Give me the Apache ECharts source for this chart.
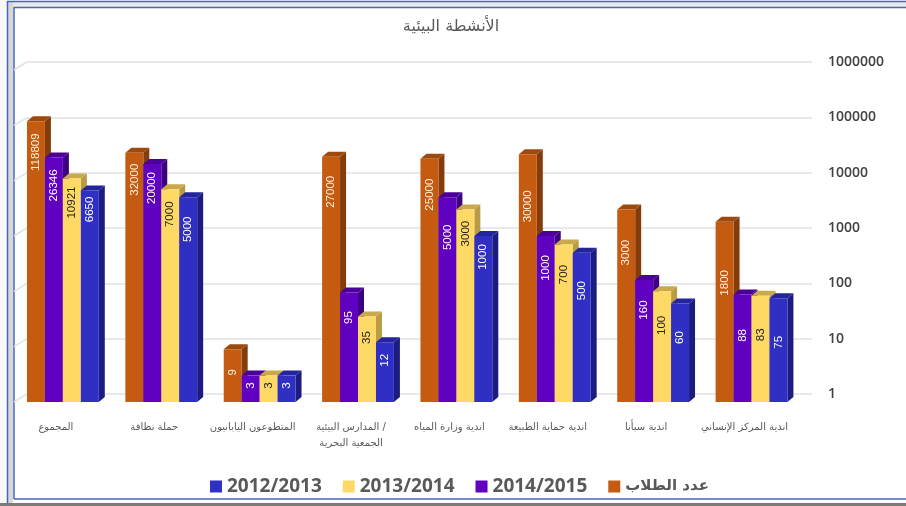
<!DOCTYPE html>
<html>
<head>
<meta charset="utf-8">
<script src="https://cdn.jsdelivr.net/npm/echarts@6/dist/echarts.min.js"></script>
<style>
html, body, #main { width: 906px; height: 506px; margin: 0; background: #fff; }
</style>
</head>
<body>
<div id="main"></div>
<script>
var categories = ['المجموع', 'حملة نظافة', 'المتطوعون اليابانيون', 'المدارس البيئية /\nالجمعية البحرية',
    'اندية وزارة المياه', 'اندية حماية الطبيعة', 'اندية سبأنا', 'اندية المركز الإنساني'];
var students = [118809, 32000, 9, 27000, 25000, 30000, 3000, 1800];
var year1415 = [26346, 20000, 3, 95, 5000, 1000, 160, 88];
var year1314 = [10921, 7000, 3, 35, 3000, 700, 100, 83];
var year1213 = [6650, 5000, 3, 12, 1000, 500, 60, 75];
var wallTicks = [1, 10, 100, 1000, 10000, 100000, 1000000];

// how far below the bar top each value label sits in the original
var labelDrop = [
    [31, 27, 23, 35, 36, 52, 43, 61],
    [28, 24, 10, 25, 40, 32, 30, 41],
    [24, 25, 10, 21, 24, 30, 34, 39],
    [19, 32, 10, 18, 21, 38, 34, 44]
];

var DEPTH_X = 6, DEPTH_Y = 5, GROUP_SHARE = 0.73;
var GRAY_TEXT = '#595959';
var FRAME_BLUE = '#4466bb';

var chart = echarts.init(document.getElementById('main'));

function barSeries(name, values, idx, front, side, top, labelColor) {
    return {
        name: name,
        type: 'custom',
        xAxisIndex: 1,
        yAxisIndex: 1,
        clip: false,
        z: 3 + idx,
        itemStyle: { color: front },
        data: values.map(function (v, i) { return [i, v]; }),
        renderItem: function (params, api) {
            var i = api.value(0);
            var p = api.coord([i, api.value(1)]);
            var base = api.coord([i, 1]);
            var w = api.size([1, 0])[0] * GROUP_SHARE / 4;
            var x = p[0] - 2 * w + idx * w;
            var y = p[1];
            var by = base[1];
            var r = x + w;
            return {
                type: 'group',
                children: [
                    { type: 'polygon', shape: { points: [[r, y], [r + DEPTH_X, y - DEPTH_Y], [r + DEPTH_X, by - DEPTH_Y], [r, by]] }, style: { fill: side } },
                    { type: 'polygon', shape: { points: [[x, y], [x + DEPTH_X, y - DEPTH_Y], [r + DEPTH_X, y - DEPTH_Y], [r, y]] }, style: { fill: top } },
                    { type: 'rect', shape: { x: x, y: y, width: w, height: by - y }, style: { fill: front } },
                    {
                        type: 'text',
                        rotation: Math.PI / 2,
                        x: x + w / 2,
                        y: y + labelDrop[idx][i],
                        style: {
                            text: String(api.value(1)),
                            fill: labelColor,
                            font: '11.5px "Liberation Sans"',
                            align: 'center',
                            verticalAlign: 'middle'
                        }
                    }
                ]
            };
        }
    };
}

chart.setOption({
    animation: false,
    backgroundColor: '#fff',
    title: {
        text: 'الأنشطة البيئية',
        left: 446,
        top: 14,
        textAlign: 'center',
        textStyle: { fontFamily: 'DejaVu Sans', fontSize: 16, fontWeight: 'normal', color: GRAY_TEXT }
    },
    legend: {
        left: 205,
        top: 472,
        icon: 'rect',
        itemWidth: 12,
        itemHeight: 12,
        itemGap: 21,
        data: [
            { name: '2012/2013' },
            { name: '2013/2014' },
            { name: '2014/2015' },
            { name: 'عدد الطلاب', textStyle: { fontFamily: 'DejaVu Sans', fontSize: 15, fontWeight: 'bold', color: GRAY_TEXT } }
        ],
        textStyle: { fontFamily: 'Open Sans', fontSize: 19, fontWeight: 'bold', color: GRAY_TEXT }
    },
    grid: [
        { left: 27, right: 94, top: 62, bottom: 112 },
        { left: 13.7, width: 787, top: 70, bottom: 104 }
    ],
    xAxis: [
        { type: 'value', gridIndex: 0, min: 0, max: 1, show: false },
        {
            type: 'category',
            gridIndex: 1,
            data: categories,
            axisLine: { show: false },
            axisTick: { show: false },
            axisLabel: {
                interval: 0,
                margin: 17,
                lineHeight: 16,
                padding: [0, 14, 0, 0],
                fontFamily: 'DejaVu Sans',
                fontSize: 10,
                color: GRAY_TEXT
            }
        }
    ],
    yAxis: [
        {
            type: 'log',
            gridIndex: 0,
            logBase: 10,
            min: 1,
            max: 1000000,
            position: 'right',
            axisLine: { show: false },
            axisTick: { show: false },
            axisLabel: {
                margin: 16,
                fontFamily: 'Open Sans',
                fontSize: 14,
                fontWeight: 600,
                color: '#404040',
                formatter: function (v) { return String(v); }
            },
            splitLine: { show: true, lineStyle: { color: '#e2e2e2', width: 1.5 } }
        },
        { type: 'log', gridIndex: 1, logBase: 10, min: 1, max: 1000000, show: false }
    ],
    series: [
        // slanted left ends of the wall gridlines
        {
            type: 'custom',
            xAxisIndex: 0,
            yAxisIndex: 0,
            clip: false,
            silent: true,
            z: 1,
            data: wallTicks.map(function (v) { return [0, v]; }),
            renderItem: function (params, api) {
                var p = api.coord([0, api.value(1)]);
                return {
                    type: 'line',
                    shape: { x1: p[0], y1: p[1], x2: p[0] - 13, y2: p[1] + 8 },
                    style: { stroke: '#e2e2e2', lineWidth: 1.5 }
                };
            }
        },
        barSeries('عدد الطلاب', students, 0, '#c55a11', '#843c0c', '#9c4a0e', '#fff2e0'),
        barSeries('2014/2015', year1415, 1, '#6000c0', '#3d0080', '#4a0099', '#fff'),
        barSeries('2013/2014', year1314, 2, '#ffd966', '#b99a45', '#c9a94c', '#222'),
        barSeries('2012/2013', year1213, 3, '#2f2fc4', '#1c1c80', '#24249c', '#fff')
    ],
    graphic: [
        { type: 'rect', silent: true, z: 0, shape: { x: 0, y: 0, width: 7, height: 506 }, style: { fill: '#f8f8f8' } },
        { type: 'rect', silent: true, z: 0, shape: { x: 7, y: 2, width: 899, height: 5 }, style: { fill: '#e8e8e8' } },
        { type: 'rect', silent: true, z: 0, shape: { x: 8, y: 2, width: 5, height: 502 }, style: { fill: '#d8d8d8' } },
        { type: 'rect', silent: true, z: 0, shape: { x: 0, y: 503, width: 906, height: 3 }, style: { fill: '#7a7a7a' } },
        { type: 'line', silent: true, z: 0, shape: { x1: 7, y1: 1.5, x2: 906, y2: 1.5 }, style: { stroke: FRAME_BLUE, lineWidth: 1.5 } },
        { type: 'line', silent: true, z: 0, shape: { x1: 7.5, y1: 1, x2: 7.5, y2: 503 }, style: { stroke: FRAME_BLUE, lineWidth: 1.5 } },
        { type: 'line', silent: true, z: 0, shape: { x1: 14, y1: 7.5, x2: 906, y2: 7.5 }, style: { stroke: FRAME_BLUE, lineWidth: 1.5 } },
        { type: 'line', silent: true, z: 0, shape: { x1: 14, y1: 7, x2: 14, y2: 499 }, style: { stroke: FRAME_BLUE, lineWidth: 1.5 } },
        { type: 'line', silent: true, z: 0, shape: { x1: 14, y1: 499, x2: 906, y2: 499 }, style: { stroke: FRAME_BLUE, lineWidth: 1.5 } }
    ]
});
</script>
</body>
</html>
